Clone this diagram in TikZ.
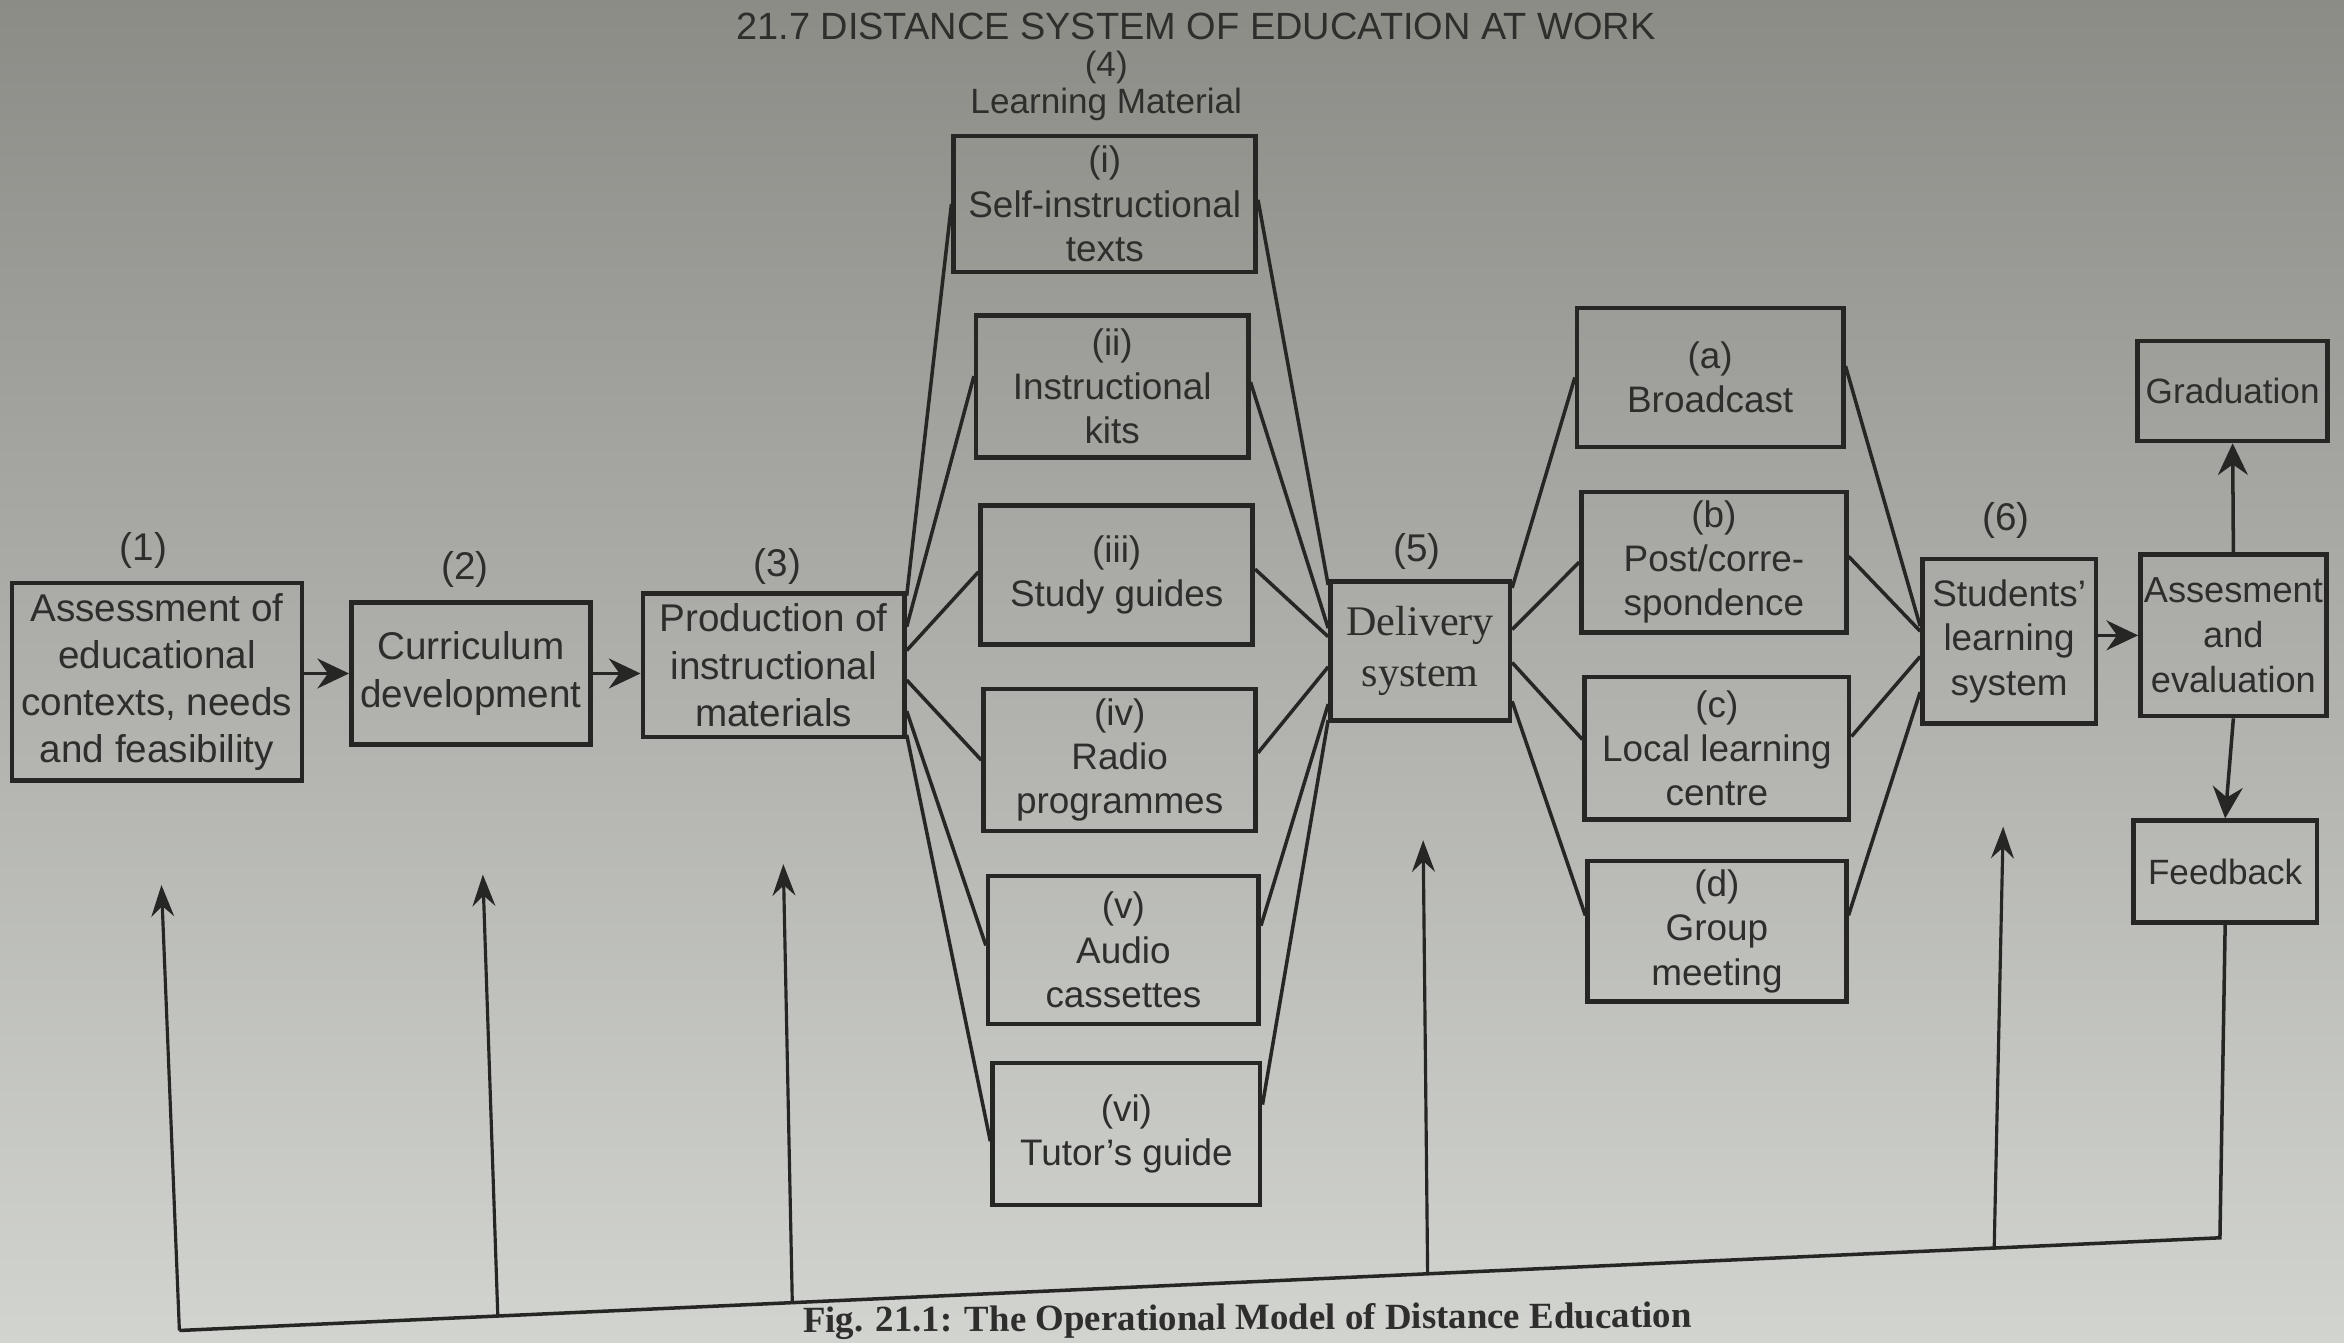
\documentclass[tikz,border=0pt]{standalone}
\usepackage{fontspec}
\setmainfont{Liberation Sans}
\newfontfamily\serifF{Liberation Serif}
\usetikzlibrary{arrows.meta,calc}
\newlength\pu \setlength\pu{0.01495cm}
\definecolor{ink}{RGB}{38,38,36}
\definecolor{txt}{RGB}{46,46,44}
\definecolor{bgA}{RGB}{140,140,135}
\definecolor{bgB}{RGB}{180,181,177}
\definecolor{bgC}{RGB}{210,212,208}
\tikzset{
  box/.style={draw=ink, line width=1.3pt, align=center, inner sep=1pt, text=txt, font=\fontsize{10.5}{12.6}\selectfont},
  bigbox/.style={box, font=\fontsize{11}{13.4}\selectfont},
  lbl/.style={text=txt, inner sep=1pt, font=\fontsize{11}{13}\selectfont},
  link/.style={draw=ink, line width=1pt},
  arr/.style={link, -{Stealth[length=9pt, width=8.5pt, inset=3pt]}},
  uparr/.style={link, line width=0.9pt, -{Stealth[length=9pt, width=6.5pt, inset=3pt]}},
}
\begin{document}
\begin{tikzpicture}[x=0.01495cm, y=-0.01495cm]
\useasboundingbox (0,0) rectangle (1568,898);
\shade[top color=bgA, middle color=bgB, bottom color=bgC] (0,0) rectangle (1568,898);

% headings
\node[text=txt, inner sep=0pt, font=\fontsize{10.8}{13}\selectfont] (title) at (800,18) {21.7 DISTANCE SYSTEM OF EDUCATION AT WORK};
\node[lbl, font=\fontsize{10}{12}\selectfont] (n4) at (740,45) {(4)};
\node[lbl, font=\fontsize{10}{12}\selectfont] (lm) at (740,70) {Learning Material};

% main chain
\node[bigbox, minimum width=194\pu, minimum height=132\pu] (b1) at (105,456) {Assessment of\\educational\\contexts, needs\\and feasibility};
\node[bigbox, minimum width=160\pu, minimum height=95\pu] (b2) at (315,450.5) {Curriculum\\development};
\node[bigbox, minimum width=175\pu, minimum height=96\pu] (b3) at (517.5,445) {Production of\\instructional\\materials};
\node[lbl] (n1) at (96,368) {(1)};
\node[lbl] (n2) at (311,381) {(2)};
\node[lbl] (n3) at (520,379) {(3)};

% learning materials
\node[box, minimum width=202\pu, minimum height=91\pu] (mi) at (739,136.5) {(i)\\Self-instructional\\texts};
\node[box, minimum width=182\pu, minimum height=95\pu] (mii) at (744,258.5) {(ii)\\Instructional\\kits};
\node[box, minimum width=182\pu, minimum height=93\pu] (miii) at (747,384.5) {(iii)\\Study guides};
\node[box, minimum width=182\pu, minimum height=95\pu] (miv) at (749,508.5) {(iv)\\Radio\\programmes};
\node[box, minimum width=181\pu, minimum height=99\pu] (mv) at (751.5,635.5) {(v)\\Audio\\cassettes};
\node[box, minimum width=179\pu, minimum height=95\pu] (mvi) at (753.5,758.5) {(vi)\\Tutor’s guide};

% delivery
\node[box, minimum width=120\pu, minimum height=93\pu, font=\serifF\fontsize{12}{14.5}\selectfont] (del) at (950,435.5) {Delivery\\system};
\node[lbl] (n5) at (948,369) {(5)};

\node[box, minimum width=178\pu, minimum height=93\pu] (da) at (1144,252.5) {(a)\\Broadcast};
\node[box, minimum width=177\pu, minimum height=94\pu] (db) at (1146.5,376) {(b)\\Post/corre-\\spondence};
\node[box, minimum width=177\pu, minimum height=95\pu] (dc) at (1148.5,500.5) {(c)\\Local learning\\centre};
\node[box, minimum width=173\pu, minimum height=94\pu] (dd) at (1148.5,623) {(d)\\Group\\meeting};

% students and evaluation
\node[box, minimum width=116\pu, minimum height=110\pu] (stu) at (1344,429) {Students’\\learning\\system};
\node[lbl] (n6) at (1342,348) {(6)};
\node[box, minimum width=122\pu, minimum height=108\pu, font=\fontsize{10.3}{12.8}\selectfont] (ass) at (1494,425) {Assesment\\and\\evaluation};
\node[box, minimum width=127\pu, minimum height=67\pu, font=\fontsize{10}{12}\selectfont] (grad) at (1493.5,261.5) {Graduation};
\node[box, minimum width=123\pu, minimum height=68\pu, font=\fontsize{10}{12}\selectfont] (feed) at (1488.5,583) {Feedback};

% chain arrows
\draw[arr] (b1.east |- b2.center) -- (b2.west);
\draw[arr] (b2.east) -- (b2.east -| b3.west);
\draw[arr] (stu.east |- ass.west) -- (ass.west);
\draw[arr] (ass.north) -- (grad.south);
\draw[arr] (ass.south) -- (feed.north);

% fan: production -> materials
\draw[link] ($(b3.north east)!0.03!(b3.south east)$) -- ($(mi.north west)!0.5!(mi.south west)$);
\draw[link] ($(b3.north east)!0.24!(b3.south east)$) -- ($(mii.north west)!0.43!(mii.south west)$);
\draw[link] ($(b3.north east)!0.40!(b3.south east)$) -- ($(miii.north west)!0.48!(miii.south west)$);
\draw[link] ($(b3.north east)!0.60!(b3.south east)$) -- ($(miv.north west)!0.5!(miv.south west)$);
\draw[link] ($(b3.north east)!0.81!(b3.south east)$) -- ($(mv.north west)!0.47!(mv.south west)$);
\draw[link] ($(b3.north east)!0.97!(b3.south east)$) -- ($(mvi.north west)!0.55!(mvi.south west)$);

% fan: materials -> delivery
\draw[link] ($(mi.north east)!0.47!(mi.south east)$) -- ($(del.north west)!0.04!(del.south west)$);
\draw[link] ($(mii.north east)!0.47!(mii.south east)$) -- ($(del.north west)!0.34!(del.south west)$);
\draw[link] ($(miii.north east)!0.46!(miii.south east)$) -- ($(del.north west)!0.40!(del.south west)$);
\draw[link] ($(miv.north east)!0.45!(miv.south east)$) -- ($(del.north west)!0.61!(del.south west)$);
\draw[link] ($(mv.north east)!0.34!(mv.south east)$) -- ($(del.north west)!0.87!(del.south west)$);
\draw[link] ($(mvi.north east)!0.30!(mvi.south east)$) -- ($(del.north west)!0.98!(del.south west)$);

% fan: delivery -> media
\draw[link] ($(del.north east)!0.06!(del.south east)$) -- ($(da.north west)!0.5!(da.south west)$);
\draw[link] ($(del.north east)!0.35!(del.south east)$) -- ($(db.north west)!0.5!(db.south west)$);
\draw[link] ($(del.north east)!0.58!(del.south east)$) -- ($(dc.north west)!0.44!(dc.south west)$);
\draw[link] ($(del.north east)!0.85!(del.south east)$) -- ($(dd.north west)!0.39!(dd.south west)$);

% fan: media -> students
\draw[link] ($(da.north east)!0.42!(da.south east)$) -- ($(stu.north west)!0.41!(stu.south west)$);
\draw[link] ($(db.north east)!0.46!(db.south east)$) -- ($(stu.north west)!0.44!(stu.south west)$);
\draw[link] ($(dc.north east)!0.42!(dc.south east)$) -- ($(stu.north west)!0.59!(stu.south west)$);
\draw[link] ($(dd.north east)!0.39!(dd.south east)$) -- ($(stu.north west)!0.80!(stu.south west)$);

% feedback loop
\coordinate (fb) at (1485,828);
\coordinate (bl) at (120,890);
\coordinate (u2b) at (333,880.3);
\coordinate (u3b) at (530,871.4);
\coordinate (u5b) at (955,852.1);
\coordinate (u6b) at (1334,834.9);
\coordinate (u1t) at (108,592);
\coordinate (u2t) at (323,585);
\coordinate (u3t) at (524,578);
\coordinate (u5t) at (952,562);
\coordinate (u6t) at (1340,553);
\draw[link] (feed.south) -- (fb) -- (bl);
\draw[uparr] (bl) -- (u1t);
\draw[uparr] (u2b) -- (u2t);
\draw[uparr] (u3b) -- (u3t);
\draw[uparr] (u5b) -- (u5t);
\draw[uparr] (u6b) -- (u6t);

% caption
\node[anchor=base east, rotate=0.3, inner sep=0pt, text=txt, font=\serifF\bfseries\fontsize{10.5}{12}\selectfont] (cap) at (1132,888) {Fig. 21.1: The Operational Model of Distance Education};
\end{tikzpicture}
\end{document}
